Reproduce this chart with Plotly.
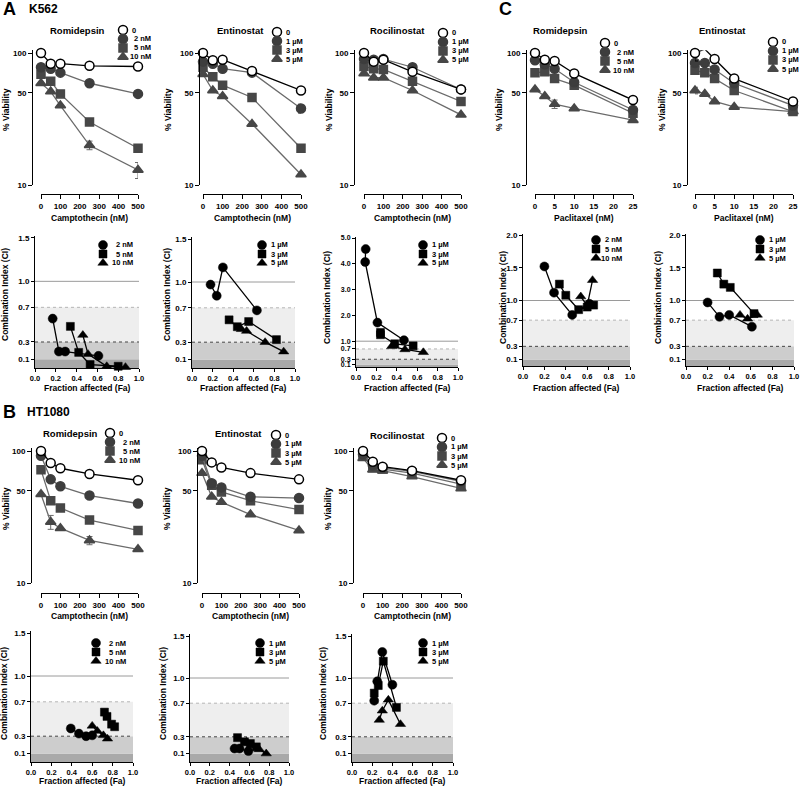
import plotly.graph_objects as go

W, H = 800, 787
FONT = "Liberation Sans, Arial, sans-serif"

# ---------------- data ----------------
camptothecin_nM = [0, 50, 100, 250, 500]
paclitaxel_nM = [0, 2.5, 5, 10, 25]
camptothecin_ticks = [0, 100, 200, 300, 400, 500]
paclitaxel_ticks = [0, 5, 10, 15, 20, 25]
viability_ticks = [10, 50, 100]
fa_ticks = [0.0, 0.2, 0.4, 0.6, 0.8, 1.0]
ci_ticks_15 = [0.1, 0.3, 0.7, 1.0, 1.5]
ci_ticks_20 = [0.1, 0.3, 0.7, 1.0, 1.5, 2.0]
ci_ticks_50 = [0.1, 0.3, 0.7, 1.0, 2.0, 3.0, 4.0, 5.0]

nanomolar_doses = ["0", "2 nM", "5 nM", "10 nM"]
micromolar_doses = ["0", "1 µM", "3 µM", "5 µM"]

# % viability, one row per HDACi dose (0, low, mid, high)
k562_romidepsin_viab = [[100, 83, 83, 80, 79], [78, 76, 71, 59, 49], [69, 61, 49, 30, 19], [59, 51, 40, 20, 13]]
k562_romidepsin_err = [[0, 0, 0, 0, 0], [0, 0, 0, 0, 0], [0, 0, 0, 0, 0], [0, 0, 0, 1.5, 1.8]]
k562_entinostat_viab = [[100, 88, 89, 73, 52], [86, 83, 76, 71, 38], [78, 66, 57, 46, 19], [69, 52, 47, 29, 12]]
k562_entinostat_err = [[0, 0, 0, 0, 0], [0, 0, 0, 0, 3], [0, 0, 0, 0, 0], [0, 0, 0, 0, 0]]
k562_rocilinostat_viab = [[100, 86, 89, 72, 53], [90, 89, 90, 78, 53], [79, 76, 75, 61, 43], [70, 65, 65, 52, 34]]
k562_rocilinostat_err = [[0, 0, 0, 0, 0], [0, 0, 0, 0, 0], [0, 0, 0, 0, 0], [0, 0, 0, 0, 0]]
k562_pac_romidepsin_viab = [[100, 89, 87, 70, 44], [88, 82, 76, 60, 37], [71, 72, 64, 57, 35], [53, 47, 41, 38, 31]]
k562_pac_romidepsin_err = [[0, 0, 0, 4, 0], [0, 0, 4, 3, 0], [0, 0, 4, 0, 0], [0, 0, 3, 0, 0]]
k562_pac_entinostat_viab = [[100, 107, 90, 64, 43], [84, 84, 75, 59, 40], [74, 71, 64, 52, 36], [52, 49, 43, 39, 36]]
k562_pac_entinostat_err = [[13, 0, 0, 0, 0], [0, 0, 0, 0, 0], [0, 0, 0, 0, 0], [3, 0, 0, 0, 0]]
ht1080_romidepsin_viab = [[100, 81, 74, 67, 60], [92, 61, 54, 46, 40], [72, 42, 37, 30, 25], [47, 29, 26, 21, 18]]
ht1080_romidepsin_err = [[0, 0, 0, 0, 0], [0, 0, 0, 0, 0], [0, 0, 0, 0, 0], [0, 3.5, 0, 1.5, 0]]
ht1080_entinostat_viab = [[100, 82, 75, 68, 61], [92, 57, 53, 45, 44], [86, 55, 49, 42, 36], [68, 45, 41, 33, 25]]
ht1080_entinostat_err = [[0, 0, 0, 0, 0], [0, 0, 0, 0, 2.5], [0, 0, 0, 0, 0], [0, 0, 0, 0, 0]]
ht1080_rocilinostat_viab = [[100, 83, 76, 71, 60], [94, 78, 75, 70, 59], [92, 75, 73, 68, 56], [88, 72, 71, 64, 52]]
ht1080_rocilinostat_err = [[0, 0, 0, 0, 0], [0, 0, 0, 0, 0], [0, 0, 0, 0, 0], [0, 0, 0, 0, 0]]

# combination index: fraction affected (Fa) and CI per dose (low, mid, high)
k562_romidepsin_fa = [[0.17, 0.23, 0.29, 0.61], [0.34, 0.42, 0.53, 0.80], [0.46, 0.51, 0.69, 0.87]]
k562_romidepsin_ci = [[0.57, 0.19, 0.19, 0.14], [0.48, 0.18, 0.04, 0.02], [0.38, 0.16, 0.02, 0.01]]
k562_entinostat_fa = [[0.18, 0.24, 0.30, 0.63], [0.36, 0.44, 0.55, 0.82], [0.48, 0.53, 0.71, 0.89]]
k562_entinostat_ci = [[0.97, 0.84, 1.17, 0.67], [0.56, 0.48, 0.54, 0.33], [0.45, 0.43, 0.30, 0.19]]
k562_rocilinostat_fa = [[0.095, 0.09, 0.21, 0.47], [0.24, 0.24, 0.38, 0.56], [0.35, 0.48, 0.66]]
k562_rocilinostat_ci = [[4.57, 4.07, 1.72, 1.04], [1.34, 1.25, 0.90, 0.82], [0.80, 0.68, 0.57]]
k562_pac_romidepsin_fa = [[0.20, 0.29, 0.46, 0.62], [0.34, 0.40, 0.52, 0.60, 0.66], [0.54, 0.60, 0.65]]
k562_pac_romidepsin_ci = [[1.52, 1.12, 0.78, 0.95], [1.25, 1.08, 0.86, 0.90, 0.93], [1.06, 0.92, 1.31]]
k562_pac_entinostat_fa = [[0.20, 0.31, 0.40, 0.61], [0.29, 0.35, 0.41, 0.63], [0.50, 0.57, 0.66]]
k562_pac_entinostat_ci = [[0.97, 0.75, 0.78, 0.60], [1.42, 1.25, 1.20, 0.80], [0.78, 0.72, 0.78]]
ht1080_romidepsin_fa = [[0.39, 0.47, 0.54, 0.60], [0.72, 0.745, 0.79, 0.82], [0.60, 0.65, 0.71, 0.75]]
ht1080_romidepsin_ci = [[0.39, 0.33, 0.30, 0.31], [0.58, 0.53, 0.44, 0.41], [0.42, 0.36, 0.31, 0.27]]
ht1080_entinostat_fa = [[0.45, 0.50, 0.59], [0.48, 0.55, 0.61, 0.67], [0.57, 0.63, 0.70, 0.77]]
ht1080_entinostat_ci = [[0.16, 0.16, 0.13], [0.29, 0.24, 0.22, 0.18], [0.24, 0.20, 0.15, 0.10]]
ht1080_rocilinostat_fa = [[0.22, 0.25, 0.30, 0.40], [0.22, 0.26, 0.31, 0.44], [0.27, 0.30, 0.36, 0.48]]
ht1080_rocilinostat_ci = [[0.73, 0.96, 1.31, 0.92], [0.82, 0.91, 1.20, 0.65], [0.50, 0.61, 0.74, 0.45]]

# ---------------- styles ----------------
VSTYLE = [
    dict(symbol="circle", fill="white", edge="black", line="black", size=9),
    dict(symbol="circle", fill="#3d3d3d", edge="#3d3d3d", line="#6b6b6b", size=9),
    dict(symbol="square", fill="#474747", edge="#474747", line="#6b6b6b", size=8),
    dict(symbol="triangle-up", fill="#474747", edge="#474747", line="#6b6b6b", size=9),
]
CSTYLE = [
    dict(symbol="circle", size=9),
    dict(symbol="square", size=8),
    dict(symbol="triangle-up", size=9),
]
AX = dict(showline=True, linecolor="black", linewidth=1, ticks="outside",
          tickwidth=1, tickcolor="black", showgrid=False, zeroline=False, fixedrange=True)
TICKFONT = dict(family=FONT, size=8, color="black", weight="bold")
LEGSIZE = 7.5

fig = go.Figure()
layout = dict(width=W, height=H, margin=dict(l=0, r=0, t=0, b=0), paper_bgcolor="white",
              plot_bgcolor="rgba(0,0,0,0)", showlegend=False, template="none",
              font=dict(family=FONT, color="black"))
annotations = []
shapes = []
legend_pts = []  # (x, y, style kind, index)


def key(p, k):
    return p if k == 1 else f"{p}{k}"


def txt(s, x, y, size=8, xanchor="center", angle=0):
    annotations.append(dict(text=s, x=x / W, y=1 - y / H, xref="paper", yref="paper",
                            xanchor=xanchor, yanchor="middle", showarrow=False, textangle=angle,
                            font=dict(size=size, family=FONT, color="black", weight="bold")))


def legend(labels, mx, ys, kind, right=None):
    for i, (lab, yy) in enumerate(zip(labels, ys)):
        legend_pts.append((mx, yy, kind, i))
        if right is not None and lab != "0":
            txt(lab, right, yy, LEGSIZE, "right")
        else:
            txt(lab, mx + 7, yy, LEGSIZE, "left")


viab_panels = [
    dict(data=k562_romidepsin_viab, err=k562_romidepsin_err, x=camptothecin_nM, ticks=camptothecin_ticks,
         yax=32, x0=41, x1=138, y100=53, y10=185, xline=194, title="Romidepsin", tx=77, ty=30,
         xtitle="Camptothecin (nM)", xty=218, ytx=6, yty=110, labels=nanomolar_doses, mx=123,
         right=153, lys=[30, 39, 48, 57]),
    dict(data=k562_entinostat_viab, err=k562_entinostat_err, x=camptothecin_nM, ticks=camptothecin_ticks,
         yax=199, x0=203, x1=301, y100=53, y10=185, xline=194, title="Entinostat", tx=240, ty=31,
         xtitle="Camptothecin (nM)", xty=218, ytx=168, yty=110, labels=micromolar_doses, mx=277,
         right=None, lys=[32, 41, 50, 59]),
    dict(data=k562_rocilinostat_viab, err=k562_rocilinostat_err, x=camptothecin_nM, ticks=camptothecin_ticks,
         yax=354, x0=364, x1=461, y100=53, y10=185, xline=194, title="Rocilinostat", tx=397, ty=31,
         xtitle="Camptothecin (nM)", xty=218, ytx=329, yty=110, labels=micromolar_doses, mx=443,
         right=None, lys=[33, 42, 51, 60]),
    dict(data=k562_pac_romidepsin_viab, err=k562_pac_romidepsin_err, x=paclitaxel_nM, ticks=paclitaxel_ticks,
         yax=526, x0=535, x1=633, y100=53, y10=185, xline=194, title="Romidepsin", tx=560, ty=31,
         xtitle="Paclitaxel (nM)", xty=218, ytx=499, yty=110, labels=nanomolar_doses, mx=605,
         right=636, lys=[43, 52, 61, 70]),
    dict(data=k562_pac_entinostat_viab, err=k562_pac_entinostat_err, x=paclitaxel_nM, ticks=paclitaxel_ticks,
         yax=687, x0=695, x1=793, y100=53, y10=185, xline=194, title="Entinostat", tx=722, ty=31,
         xtitle="Paclitaxel (nM)", xty=218, ytx=662, yty=110, labels=micromolar_doses, mx=773,
         right=None, lys=[42, 51, 60, 69]),
    dict(data=ht1080_romidepsin_viab, err=ht1080_romidepsin_err, x=camptothecin_nM, ticks=camptothecin_ticks,
         yax=31, x0=41, x1=138, y100=451, y10=583, xline=593, title="Romidepsin", tx=70, ty=433,
         xtitle="Camptothecin (nM)", xty=616, ytx=6, yty=509, labels=nanomolar_doses, mx=110,
         right=142, lys=[433, 442, 451, 460]),
    dict(data=ht1080_entinostat_viab, err=ht1080_entinostat_err, x=camptothecin_nM, ticks=camptothecin_ticks,
         yax=197, x0=202, x1=299, y100=451, y10=583, xline=593, title="Entinostat", tx=238, ty=433,
         xtitle="Camptothecin (nM)", xty=616, ytx=167, yty=509, labels=micromolar_doses, mx=276,
         right=None, lys=[435, 444, 453, 462]),
    dict(data=ht1080_rocilinostat_viab, err=ht1080_rocilinostat_err, x=camptothecin_nM, ticks=camptothecin_ticks,
         yax=353, x0=363, x1=461, y100=451, y10=583, xline=593, title="Rocilinostat", tx=397, ty=435,
         xtitle="Camptothecin (nM)", xty=616, ytx=328, yty=509, labels=micromolar_doses, mx=442,
         right=None, lys=[438, 447, 456, 465]),
]

ci_panels = [
    dict(fa=k562_romidepsin_fa, ci=k562_romidepsin_ci, ticks=ci_ticks_15, tmax=1.5, rmax=1.52,
         x0=35, x1=139, y0=368, yt=238, xty=388, ytx=5, yty=295, labels=nanomolar_doses[1:], mx=103,
         right=135, lys=[245, 254, 263]),
    dict(fa=k562_entinostat_fa, ci=k562_entinostat_ci, ticks=ci_ticks_15, tmax=1.5, rmax=1.52,
         x0=192, x1=295, y0=368, yt=239, xty=388, ytx=167, yty=295, labels=micromolar_doses[1:], mx=262,
         right=None, lys=[245, 254, 263]),
    dict(fa=k562_rocilinostat_fa, ci=k562_rocilinostat_ci, ticks=ci_ticks_50, tmax=5.0, rmax=5.05,
         x0=356, x1=458, y0=367, yt=238, xty=388, ytx=327, yty=298, labels=micromolar_doses[1:], mx=423,
         right=None, lys=[245, 254, 263]),
    dict(fa=k562_pac_romidepsin_fa, ci=k562_pac_romidepsin_ci, ticks=ci_ticks_20, tmax=2.0, rmax=2.02,
         x0=523, x1=630, y0=366, yt=235, xty=388, ytx=503, yty=298, labels=nanomolar_doses[1:], mx=596,
         right=624, lys=[240, 249, 258]),
    dict(fa=k562_pac_entinostat_fa, ci=k562_pac_entinostat_ci, ticks=ci_ticks_20, tmax=2.0, rmax=2.02,
         x0=686, x1=794, y0=366, yt=235, xty=388, ytx=658, yty=298, labels=micromolar_doses[1:], mx=760,
         right=None, lys=[240, 249, 258]),
    dict(fa=ht1080_romidepsin_fa, ci=ht1080_romidepsin_ci, ticks=ci_ticks_15, tmax=1.5, rmax=1.52,
         x0=31, x1=133, y0=762, yt=633, xty=781, ytx=4, yty=694, labels=nanomolar_doses[1:], mx=96,
         right=128, lys=[643, 652, 661]),
    dict(fa=ht1080_entinostat_fa, ci=ht1080_entinostat_ci, ticks=ci_ticks_15, tmax=1.5, rmax=1.52,
         x0=190, x1=289, y0=762, yt=636, xty=781, ytx=163, yty=694, labels=micromolar_doses[1:], mx=260,
         right=None, lys=[643, 652, 661]),
    dict(fa=ht1080_rocilinostat_fa, ci=ht1080_rocilinostat_ci, ticks=ci_ticks_15, tmax=1.5, rmax=1.52,
         x0=352, x1=453, y0=762, yt=636, xty=781, ytx=323, yty=694, labels=micromolar_doses[1:], mx=423,
         right=None, lys=[643, 652, 661]),
]

k = 0
for g in viab_panels:
    k += 1
    dec = g["y10"] - g["y100"]
    top = g["y100"] - 0.02 * dec
    xmax = g["ticks"][-1]
    layout[key("xaxis", k)] = dict(domain=[g["x0"] / W, g["x1"] / W], range=[0, xmax], anchor="free",
                                   position=1 - g["xline"] / H, tickvals=g["ticks"], ticklen=4,
                                   ticktext=[str(t) for t in g["ticks"]], tickfont=TICKFONT, **AX)
    layout[key("yaxis", k)] = dict(domain=[1 - g["y10"] / H, 1 - top / H], type="log", range=[1, 2.02],
                                   anchor="free", position=g["yax"] / W, tickvals=viability_ticks, ticklen=4,
                                   ticktext=[str(t) for t in viability_ticks], tickfont=TICKFONT, **AX)
    for i in [3, 2, 1, 0]:
        s = VSTYLE[i]
        fig.add_trace(go.Scatter(
            x=g["x"], y=g["data"][i], mode="lines+markers", cliponaxis=False,
            xaxis=key("x", k), yaxis=key("y", k),
            line=dict(color=s["line"], width=1.3),
            marker=dict(symbol=s["symbol"], size=s["size"], color=s["fill"],
                        line=dict(color=s["edge"], width=1.5)),
            error_y=dict(type="data", array=g["err"][i], visible=True, color=s["line"],
                         thickness=1, width=3)))
    txt(g["title"], g["tx"], g["ty"], 9.5)
    txt(g["xtitle"], (g["x0"] + g["x1"]) / 2, g["xty"], 8.5)
    txt("% Viability", g["ytx"], g["yty"], 8.5, angle=-90)
    legend(g["labels"], g["mx"], g["lys"], "v", g["right"])

for g in ci_panels:
    k += 1
    scale = (g["y0"] - g["yt"]) / g["tmax"]
    top = g["y0"] - scale * g["rmax"]
    xa, ya = key("x", k), key("y", k)
    small = g["tmax"] > 2
    layout[key("xaxis", k)] = dict(domain=[g["x0"] / W, g["x1"] / W], range=[0, 1], anchor=ya, ticklen=3,
                                   tickvals=fa_ticks, ticktext=[f"{t:.1f}" for t in fa_ticks],
                                   tickfont=dict(TICKFONT, size=7.5), **AX)
    layout[key("yaxis", k)] = dict(domain=[1 - g["y0"] / H, 1 - top / H], range=[0, g["rmax"]], anchor=xa,
                                   ticklen=3, tickvals=g["ticks"], ticktext=[f"{t:.1f}" for t in g["ticks"]],
                                   tickfont=dict(TICKFONT, size=7 if small else 8), **AX)
    for (y0, y1, col) in [(0, 0.1, "#a9a9a9"), (0.1, 0.3, "#cdcdcd"), (0.3, 0.7, "#eeeeee")]:
        shapes.append(dict(type="rect", xref=xa, yref=ya, x0=0, x1=1, y0=y0, y1=y1,
                           fillcolor=col, line=dict(width=0), layer="below"))
    shapes.append(dict(type="line", xref=xa, yref=ya, x0=0, x1=1, y0=0.3, y1=0.3,
                       line=dict(color="#444444", width=1, dash="dot"), layer="below"))
    shapes.append(dict(type="line", xref=xa, yref=ya, x0=0, x1=1, y0=0.7, y1=0.7,
                       line=dict(color="#b5b5b5", width=1, dash="dot"), layer="below"))
    shapes.append(dict(type="line", xref=xa, yref=ya, x0=0, x1=1, y0=1.0, y1=1.0,
                       line=dict(color="#9a9a9a", width=1), layer="below"))
    for i in range(3):
        s = CSTYLE[i]
        fig.add_trace(go.Scatter(
            x=g["fa"][i], y=g["ci"][i], mode="lines+markers", cliponaxis=False,
            xaxis=xa, yaxis=ya, line=dict(color="black", width=1.3),
            marker=dict(symbol=s["symbol"], size=s["size"], color="black",
                        line=dict(color="black", width=0.5))))
    txt("Fraction affected (Fa)", (g["x0"] + g["x1"]) / 2, g["xty"], 8.5)
    txt("Combination Index (CI)", g["ytx"], g["yty"], 8.5, angle=-90)
    legend(g["labels"], g["mx"], g["lys"], "c", g["right"])

# legend markers on a full-page overlay axis
k += 1
lx, ly = key("x", k), key("y", k)
layout[key("xaxis", k)] = dict(domain=[0, 1], range=[0, W], visible=False, fixedrange=True, anchor=ly)
layout[key("yaxis", k)] = dict(domain=[0, 1], range=[H, 0], visible=False, fixedrange=True, anchor=lx)
for (mx, my, kind, i) in legend_pts:
    if kind == "v":
        s = VSTYLE[i]
        mk = dict(symbol=s["symbol"], size=s["size"], color=s["fill"], line=dict(color=s["edge"], width=1.5))
    else:
        s = CSTYLE[i]
        mk = dict(symbol=s["symbol"], size=s["size"], color="black", line=dict(color="black", width=0.5))
    fig.add_trace(go.Scatter(x=[mx], y=[my], mode="markers", marker=mk, xaxis=lx, yaxis=ly,
                             cliponaxis=False, hoverinfo="skip"))

# section labels
txt("A", 1, 9, 18, "left")
txt("K562", 27, 9, 12, "left")
txt("B", 1, 412, 18, "left")
txt("HT1080", 25, 412, 12, "left")
txt("C", 497, 9, 18, "left")

layout["annotations"] = annotations
layout["shapes"] = shapes
fig.update_layout(**layout)
fig.write_html("out.html", config={"displayModeBar": False},
               post_script="document.body.style.margin='0';")
